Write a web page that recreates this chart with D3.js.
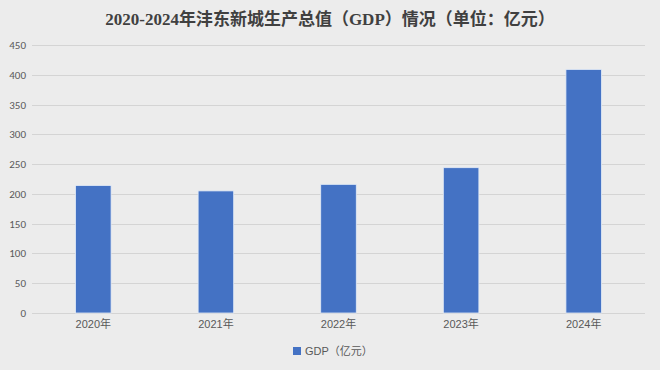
<!DOCTYPE html>
<html>
<head>
<meta charset="utf-8">
<script src="https://cdn.jsdelivr.net/npm/d3@7"></script>
<style>
  html, body { margin: 0; padding: 0; background: #ececec; }
  svg { display: block; }
</style>
</head>
<body>
<div id="chart"></div>
<script>
const width = 660;
const height = 370;

const years = ["2020年", "2021年", "2022年", "2023年", "2024年"];
const gdp = [214, 205, 216, 244, 409];
const yTicks = [0, 50, 100, 150, 200, 250, 300, 350, 400, 450];

const title = "2020-2024年沣东新城生产总值（GDP）情况（单位：亿元）";
const legendLabel = "GDP（亿元）";

const margin = { top: 45, right: 15, bottom: 57, left: 32 };
const BAR_COLOR = "#4472c4";
const GRID_COLOR = "#d4d4d4";
const TEXT_COLOR = "#595959";

const svg = d3.select("#chart")
  .append("svg")
  .attr("width", width)
  .attr("height", height);

svg.append("rect")
  .attr("width", width)
  .attr("height", height)
  .attr("fill", "#ececec");

const x = d3.scaleBand()
  .domain(years)
  .range([margin.left, width - margin.right])
  .paddingInner(0.71)
  .paddingOuter(0.355);

const y = d3.scaleLinear()
  .domain([0, 450])
  .range([height - margin.bottom, margin.top]);

// grid lines
svg.append("g")
  .selectAll("line")
  .data(yTicks)
  .enter()
  .append("line")
  .attr("x1", margin.left)
  .attr("x2", width - margin.right)
  .attr("y1", d => Math.round(y(d)) + 0.5)
  .attr("y2", d => Math.round(y(d)) + 0.5)
  .attr("stroke", GRID_COLOR)
  .attr("stroke-width", 1);

// y axis labels
const yAxis = svg.append("g")
  .attr("transform", `translate(${margin.left - 6},0)`)
  .call(d3.axisLeft(y).tickValues(yTicks).tickSize(0).tickPadding(0));
yAxis.select(".domain").remove();
yAxis.selectAll("text")
  .attr("fill", TEXT_COLOR)
  .style("font-family", "Calibri, Carlito, 'Liberation Sans', sans-serif")
  .style("font-size", "11px");

// bars
svg.append("g")
  .selectAll(".bar")
  .data(years)
  .enter()
  .append("rect")
  .classed("bar", true)
  .attr("x", d => x(d))
  .attr("width", x.bandwidth())
  .attr("y", (d, i) => y(gdp[i]))
  .attr("height", (d, i) => y(0) - y(gdp[i]))
  .attr("fill", BAR_COLOR)
  .attr("stroke", "#e3ebf7")
  .attr("stroke-width", 0.8);

// x axis labels
const xAxis = svg.append("g")
  .attr("transform", `translate(0,${y(0) + 7})`)
  .call(d3.axisBottom(x).tickSize(0).tickPadding(0));
xAxis.select(".domain").remove();
xAxis.selectAll("text")
  .attr("fill", TEXT_COLOR)
  .attr("dy", "0.71em")
  .style("font-family", "'Liberation Sans', 'Noto Sans CJK SC', sans-serif")
  .style("font-size", "11px");

// title
svg.append("text")
  .attr("x", width / 2)
  .attr("y", 25)
  .attr("text-anchor", "middle")
  .attr("fill", "#404040")
  .style("font-family", "'Liberation Serif', 'Noto Sans CJK SC', serif")
  .style("font-size", "17px")
  .style("font-weight", "bold")
  .text(title);

// legend
const legend = svg.append("g")
  .attr("transform", "translate(293,347)");
legend.append("rect")
  .attr("width", 8)
  .attr("height", 8)
  .attr("fill", BAR_COLOR);
legend.append("text")
  .attr("x", 12)
  .attr("y", 8)
  .attr("fill", TEXT_COLOR)
  .style("font-family", "'Liberation Sans', 'Noto Sans CJK SC', sans-serif")
  .style("font-size", "11px")
  .text(legendLabel);
</script>
</body>
</html>
